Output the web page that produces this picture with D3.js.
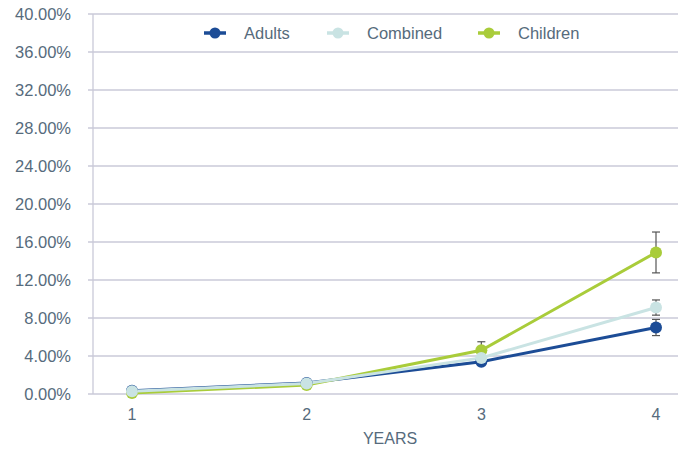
<!DOCTYPE html>
<html><head><meta charset="utf-8">
<script src="https://cdn.jsdelivr.net/npm/d3@7"></script>
<style>body{margin:0;background:#fff}svg{display:block;font-family:"Liberation Sans",Arial,sans-serif}</style>
</head><body><svg id="c" width="685" height="450"></svg>
<script>
const years = [1, 2, 3, 4];
const yTicks = [0, 4, 8, 12, 16, 20, 24, 28, 32, 36, 40];
const seriesNames = ["Adults", "Combined", "Children"];
const adults = [0.35, 1.15, 3.4, 7.0];
const combined = [0.3, 1.1, 3.8, 9.1];
const children = [0.1, 0.95, 4.6, 14.9];
const adultsErr = [0, 0, 0, 0.85];
const combinedErr = [0, 0, 0, 0.8];
const childrenErr = [0, 0, 0.9, 2.15];
const colors = {Adults: "#1c4c96", Combined: "#c9e3e3", Children: "#a9cc3a"};

const svg = d3.select("#c");
const x = d3.scalePoint().domain(years).range([132, 656]).padding(0);
const y = d3.scaleLinear().domain([0, 40]).range([394, 14]);
const textColor = "#566b7c";

// grid
svg.append("g").selectAll("line").data(yTicks).join("line")
  .attr("x1", 88).attr("x2", 678)
  .attr("y1", d => y(d)).attr("y2", d => y(d))
  .attr("stroke", "#cacad8").attr("stroke-width", 1.3);
svg.append("line").attr("x1", 93).attr("x2", 93).attr("y1", y(40)).attr("y2", y(0))
  .attr("stroke", "#cacad8").attr("stroke-width", 1.3);

// y labels
svg.append("g").selectAll("text").data(yTicks).join("text")
  .attr("x", 71).attr("y", d => y(d)).attr("dy", "0.36em")
  .attr("text-anchor", "end").attr("fill", textColor).attr("font-size", 16.5)
  .text(d => d.toFixed(2) + "%");

// x labels
svg.append("g").selectAll("text").data(years).join("text")
  .attr("x", d => x(d)).attr("y", 420).attr("text-anchor", "middle")
  .attr("fill", textColor).attr("font-size", 16).text(d => d);
svg.append("text").attr("x", 390).attr("y", 444).attr("text-anchor", "middle")
  .attr("fill", textColor).attr("font-size", 16).text("YEARS");

const data = {
  Adults: {v: adults, e: adultsErr},
  Combined: {v: combined, e: combinedErr},
  Children: {v: children, e: childrenErr}
};
const line = d3.line().x((d, i) => x(years[i])).y(d => y(d));
const drawOrder = ["Adults", "Children", "Combined"];

// error bars
drawOrder.forEach(name => {
  const s = data[name];
  const g = svg.append("g").attr("stroke", "#555").attr("stroke-width", 1.2);
  s.v.forEach((v, i) => {
    const e = s.e[i];
    if (!e) return;
    const cx = x(years[i]);
    g.append("line").attr("x1", cx).attr("x2", cx).attr("y1", y(v + e)).attr("y2", y(v - e));
    g.append("line").attr("x1", cx - 4).attr("x2", cx + 4).attr("y1", y(v + e)).attr("y2", y(v + e));
    g.append("line").attr("x1", cx - 4).attr("x2", cx + 4).attr("y1", y(v - e)).attr("y2", y(v - e));
  });
});

drawOrder.forEach(name => {
  const s = data[name];
  svg.append("path").datum(s.v).attr("d", line).attr("fill", "none")
    .attr("stroke", colors[name]).attr("stroke-width", 3);
});
drawOrder.forEach(name => {
  const s = data[name];
  svg.append("g").selectAll("circle").data(s.v).join("circle")
    .attr("cx", (d, i) => x(years[i])).attr("cy", d => y(d)).attr("r", 6)
    .attr("fill", colors[name]);
});

// legend
const legX = [204, 327, 478];
seriesNames.forEach((name, i) => {
  const lx = legX[i];
  svg.append("line").attr("x1", lx).attr("x2", lx + 22).attr("y1", 33).attr("y2", 33)
    .attr("stroke", colors[name]).attr("stroke-width", 3.5);
  svg.append("circle").attr("cx", lx + 11).attr("cy", 33).attr("r", 5.5).attr("fill", colors[name]);
  svg.append("text").attr("x", lx + 40).attr("y", 33).attr("dy", "0.36em")
    .attr("fill", textColor).attr("font-size", 16.5).text(name);
});
</script></body></html>
